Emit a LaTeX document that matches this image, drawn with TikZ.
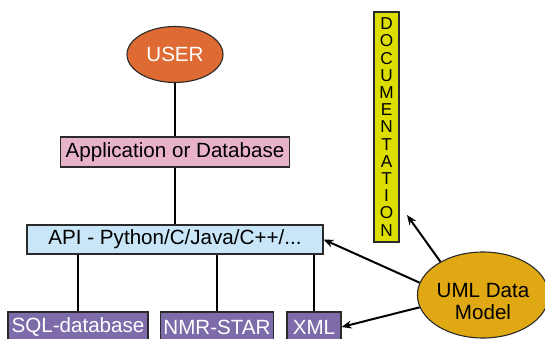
\documentclass[tikz,border=0pt]{standalone}
\usepackage{fontspec}
\setmainfont{Liberation Sans}
\usetikzlibrary{shapes.geometric,arrows.meta}
\definecolor{userc}{HTML}{DD6B33}
\definecolor{appc}{HTML}{E8B2C8}
\definecolor{apic}{HTML}{C8E6F8}
\definecolor{fmtc}{HTML}{7E6BAA}
\definecolor{docc}{HTML}{DDDD00}
\definecolor{umlc}{HTML}{E0A812}
\definecolor{edgec}{HTML}{2A2A2A}
\tikzset{
  box/.style={draw=edgec, line width=1.1pt, inner sep=0pt, font=\fontsize{20.6}{21.5}\selectfont},
  fmtbox/.style={box, fill=fmtc, text=white, minimum height=30pt},
  conn/.style={line width=2pt, black},
  arr/.style={line width=2pt, black, -{Stealth[length=10pt,width=8pt]}},
}
\begin{document}
\begin{tikzpicture}[x=1pt,y=-1pt]
\useasboundingbox (0,0) rectangle (545,339);
\node[box, ellipse, fill=userc, text=white, minimum width=96pt, minimum height=56pt] (user) at (175,54.5) {USER};
\node[box, rectangle, fill=appc, minimum width=229pt, minimum height=30pt] (app) at (175,152) {Application or Database};
\node[box, rectangle, fill=apic, minimum width=296pt, minimum height=29pt] (api) at (175,239.5) {API - Python/C/Java/C++/...};
\node[fmtbox, minimum width=140pt] (sql) at (78,327) {SQL-database};
\node[fmtbox, minimum width=113pt] (nmr) at (217,327) {NMR-STAR};
\node[fmtbox, minimum width=54pt] (xml) at (314,327) {XML};
\node[box, rectangle, fill=docc, minimum width=25pt, minimum height=230pt, align=center,
      font=\fontsize{17.2}{17.2}\selectfont] (doc) at (386.5,127)
  {D\\O\\C\\U\\M\\E\\N\\T\\A\\T\\I\\O\\N};
\node[box, ellipse, fill=umlc, minimum width=124pt, minimum height=86pt] (uml) at (483,295)
  {\raisebox{-14pt}[0pt][0pt]{\begin{tabular}{@{}c@{}}UML Data\\[0.5pt]Model\end{tabular}}};
\coordinate (docend) at (407,215);
\draw[conn] (user) -- (app);
\draw[conn] (app) -- (app |- api.north);
\draw[conn] (sql |- api.south) -- (sql);
\draw[conn] (nmr |- api.south) -- (nmr);
\draw[conn] (xml |- api.south) -- (xml);
\draw[arr] (uml.169) -- (api.east);
\draw[arr] (uml.191) -- (xml.east);
\draw[arr] (uml.142) -- (docend);
\end{tikzpicture}
\end{document}
